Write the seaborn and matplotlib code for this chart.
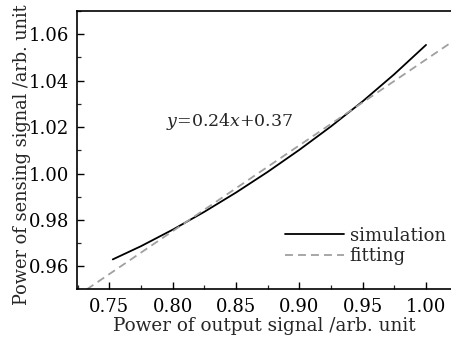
import matplotlib
matplotlib.use("Agg")
import matplotlib.pyplot as plt
from matplotlib.ticker import MultipleLocator
import seaborn as sns
import pandas as pd

# Data
sim_x = [0.7527, 0.775, 0.800, 0.825, 0.850, 0.875, 0.900, 0.925, 0.950, 0.975, 1.000]
sim_y = [0.9630, 0.9687, 0.9758, 0.9835, 0.9918, 1.0007, 1.0102, 1.0203, 1.0311, 1.0428, 1.0554]
fit_x = [0.7322, 1.0197]
fit_y = [0.9501, 1.0564]
x_ticks = [0.75, 0.80, 0.85, 0.90, 0.95, 1.00]
y_ticks = [0.96, 0.98, 1.00, 1.02, 1.04, 1.06]
equation = "$y$=0.24$x$+0.37"
x_label = "Power of output signal /arb. unit"
y_label = "Power of sensing signal /arb. unit"

sns.set_theme(style="ticks")
plt.rcParams['font.family'] = ['DejaVu Serif']
plt.rcParams['mathtext.fontset'] = 'dejavuserif'

fig = plt.figure(figsize=(4.51, 3.40), dpi=100)
ax = fig.add_axes([0.1714, 0.149, 1.0 - 0.1714, 0.9676 - 0.149])

sim_df = pd.DataFrame({"x": sim_x, "y": sim_y})
fit_df = pd.DataFrame({"x": fit_x, "y": fit_y})

sns.lineplot(data=sim_df, x="x", y="y", ax=ax, color="black", linewidth=1.3,
             label="simulation")
sns.lineplot(data=fit_df, x="x", y="y", ax=ax, color="#a0a0a0", linewidth=1.3,
             linestyle=(0, (4.4, 2.8)), label="fitting")

ax.set_xlim(0.7247, 1.0197)
ax.set_ylim(0.9501, 1.0700)
ax.set_xticks(x_ticks)
ax.set_xticklabels([f"{v:.2f}" for v in x_ticks])
ax.set_yticks(y_ticks)
ax.set_yticklabels([f"{v:.2f}" for v in y_ticks])
ax.xaxis.set_minor_locator(MultipleLocator(0.025))
ax.yaxis.set_minor_locator(MultipleLocator(0.01))
ax.tick_params(which="major", direction="in", length=5, width=1.0, labelsize=13,
               colors="black", pad=6)
ax.tick_params(which="minor", direction="in", length=3, width=0.9)
ax.tick_params(top=False, right=False)

for s in ["left", "bottom", "top"]:
    ax.spines[s].set_visible(True)
    ax.spines[s].set_linewidth(1.2)
    ax.spines[s].set_color("black")
ax.spines["right"].set_visible(False)

ax.set_xlabel(x_label, fontsize=13.2, labelpad=1)
ax.set_ylabel(y_label, fontsize=12.8)
ax.yaxis.set_label_coords(-0.125, 0.483)

ax.text(0.795, 1.0225, equation, fontsize=12.5, ha="left", va="center")

leg = ax.legend(loc="lower right", bbox_to_anchor=(1.005, 0.06), frameon=False,
                fontsize=13, handlelength=3.3, handletextpad=0.3,
                labelspacing=0.15, borderaxespad=0)

fig.savefig("out.png", dpi=100)
